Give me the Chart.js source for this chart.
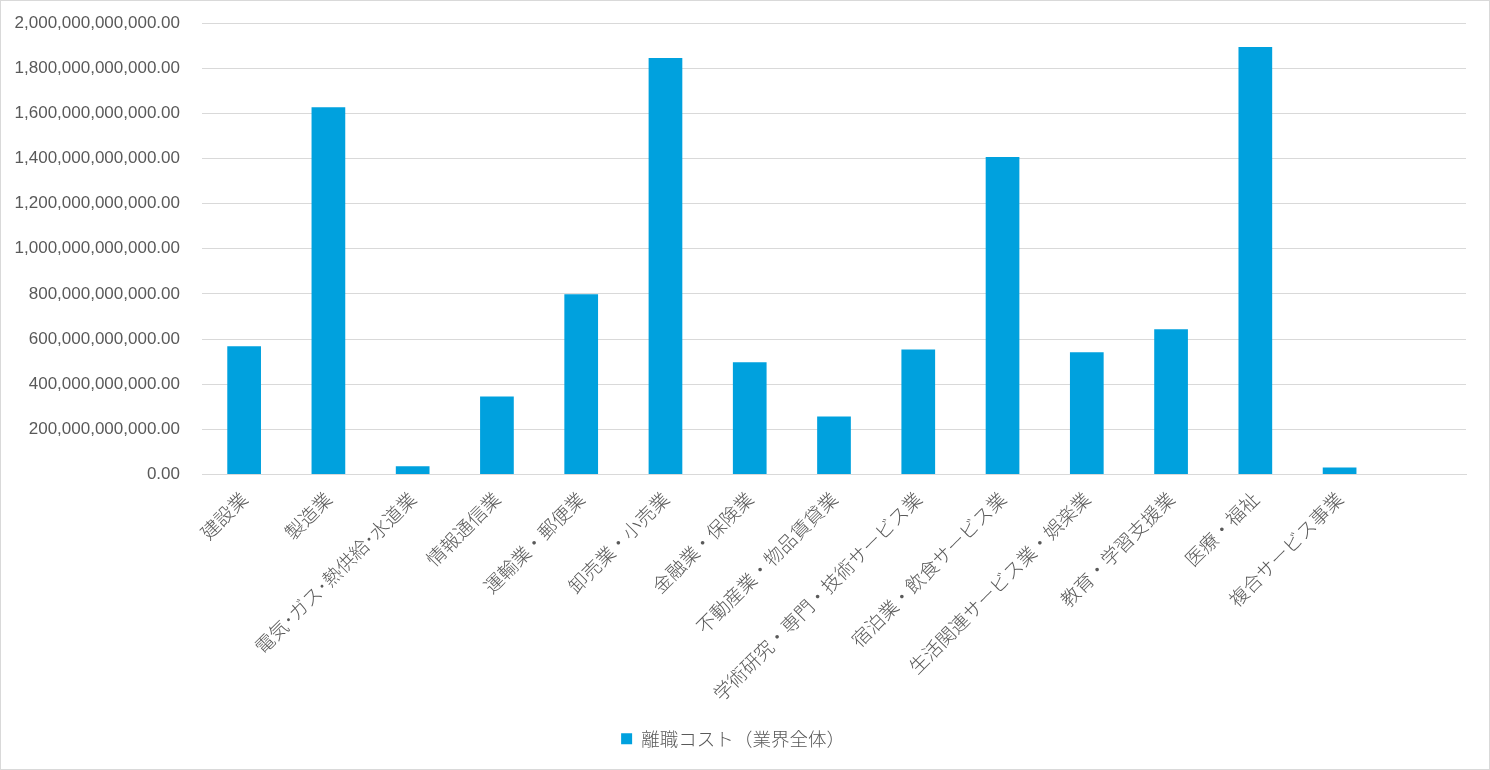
<!DOCTYPE html>
<html><head><meta charset="utf-8">
<script src="https://cdn.jsdelivr.net/npm/chart.js@4/dist/chart.umd.min.js"></script>
<style>
html,body{margin:0;padding:0;background:#fff;}
#wrap{position:relative;width:1490px;height:770px;}
</style></head>
<body><div id="wrap"><canvas id="c"></canvas></div>
<script>
const categories = ["建設業","製造業","電気･ガス･熱供給･水道業","情報通信業","運輸業・郵便業","卸売業・小売業","金融業・保険業","不動産業・物品賃貸業","学術研究・専門・技術サービス業","宿泊業・飲食サービス業","生活関連サービス業・娯楽業","教育・学習支援業","医療・福祉","複合サービス事業",""];
const seriesName = "離職コスト（業界全体）";
const costValues = [568e9,1627e9,36e9,346e9,798e9,1845e9,497e9,257e9,554e9,1406e9,541e9,643e9,1894e9,31e9,null];
const yTicks = {min:0,max:2e12,step:2e11};

const border = {id:'frame',afterDraw(ch){const c=ch.ctx;c.save();c.strokeStyle='#d9d9d9';c.lineWidth=1;c.strokeRect(0.5,0.5,ch.width-1,ch.height-1);c.restore();}};
const grey='#595959';
new Chart(document.getElementById('c'),{
 type:'bar',
 data:{labels:categories,datasets:[{label:seriesName,data:costValues,backgroundColor:'#00A1DE',borderWidth:0,barPercentage:0.8,categoryPercentage:0.5}]},
 options:{responsive:true,maintainAspectRatio:false,animation:false,
  layout:{padding:{top:23,right:24,bottom:12,left:0}},
  plugins:{legend:{position:'bottom',labels:{boxWidth:11,boxHeight:11,color:grey,font:{family:'"Noto Sans CJK JP"',size:18.5,weight:300},padding:10}},tooltip:{enabled:false}},
  scales:{
   x:{grid:{display:false,drawTicks:false},border:{display:true,color:'#d9d9d9',width:1},
      ticks:{autoSkip:false,maxRotation:45,minRotation:45,color:grey,padding:13,font:{family:'"Noto Sans CJK JP"',size:19,weight:300}},
      afterFit:(s)=>{s.height=245;s.paddingLeft=0;s.paddingRight=0;}},
   y:{min:yTicks.min,max:yTicks.max,grid:{color:'#d9d9d9',drawTicks:false},border:{display:false},
      ticks:{stepSize:yTicks.step,color:grey,padding:22,font:{family:'"Liberation Sans"',size:17},
        callback:(v)=>Number(v).toLocaleString('en-US',{minimumFractionDigits:2,maximumFractionDigits:2})},
      afterFit:(s)=>{s.width=202;s.paddingTop=0;s.paddingBottom=0;}}
  }},
 plugins:[border]
});
</script></body></html>
